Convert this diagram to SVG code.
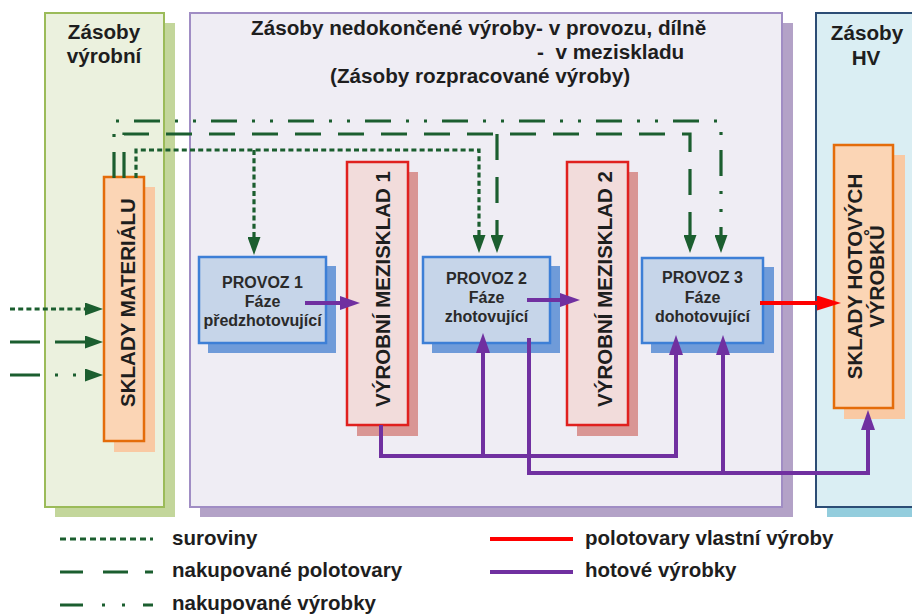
<svg xmlns="http://www.w3.org/2000/svg" width="912" height="614" viewBox="0 0 912 614">
  <style>
    text { font-family: "Liberation Sans", Arial, sans-serif; font-weight: bold; fill: #1e1e1e; }
    .hdr { font-size: 20.7px; }
    .big { font-size: 20.5px; }
    .box { font-size: 16px; fill: #2a2a2a; }
    .g { fill: none; stroke: #1b5e2f; stroke-width: 3.2; }
    .dot { stroke-dasharray: 5 3.2; }
    .dash { stroke-dasharray: 26 17; }
    .dd { stroke-dasharray: 26 15 3 15 3 15; }
    .pu { fill: none; stroke: #7030a0; stroke-width: 4; }
    .rd { fill: none; stroke: #ff0000; stroke-width: 4; }
  </style>
  <defs>
    <marker id="ag" markerUnits="userSpaceOnUse" markerWidth="18" markerHeight="13" viewBox="0 0 18 13" refX="0" refY="6.5" orient="auto">
      <path d="M0,0 L18,6.5 L0,13 Z" fill="#1b5e2f"/>
    </marker>
    <marker id="ap" markerUnits="userSpaceOnUse" markerWidth="20" markerHeight="14" viewBox="0 0 20 14" refX="0" refY="7" orient="auto">
      <path d="M0,0 L20,7 L0,14 Z" fill="#7030a0"/>
    </marker>
    <marker id="ar" markerUnits="userSpaceOnUse" markerWidth="24" markerHeight="15" viewBox="0 0 24 15" refX="0" refY="7.5" orient="auto">
      <path d="M0,0 L24,7.5 L0,15 Z" fill="#ff0000"/>
    </marker>
  </defs>

  <rect width="912" height="614" fill="#ffffff"/>

  <!-- inventory zones -->
  <g id="zone-vyrobni">
    <rect x="55" y="23" width="120" height="494" fill="#c3d69b"/>
    <rect x="45" y="13" width="119" height="494" fill="#ebf1de" stroke="#9bbb59" stroke-width="2"/>
    <text class="hdr" x="104" y="39" text-anchor="middle">Zásoby</text>
    <text class="hdr" x="104" y="63" text-anchor="middle">výrobní</text>
  </g>
  <g id="zone-nedokoncena">
    <rect x="200" y="23" width="593" height="494" fill="#b3a2c7"/>
    <rect x="190" y="13" width="592" height="494" fill="#efedf4" stroke="#a08dc4" stroke-width="2"/>
    <text class="hdr" x="251" y="35">Zásoby nedokončené výroby- v provozu, dílně</text>
    <text class="hdr" x="537" y="59" xml:space="preserve">-  v meziskladu</text>
    <text class="hdr" x="330" y="83">(Zásoby rozpracované výroby)</text>
  </g>
  <g id="zone-hv">
    <rect x="827" y="23" width="100" height="494" fill="#93cddd"/>
    <rect x="816" y="13" width="110" height="494" fill="#daeef3" stroke="#2c4d75" stroke-width="2"/>
    <text class="hdr" x="867" y="40" text-anchor="middle">Zásoby</text>
    <text class="hdr" x="866" y="65" text-anchor="middle">HV</text>
  </g>

  <!-- nodes -->
  <g id="sklady-materialu">
    <rect x="114" y="187" width="41" height="265" fill="#f9c9a3"/>
    <rect x="104" y="177" width="40" height="264" fill="#fbd5b5" stroke="#e46c0a" stroke-width="2.5"/>
    <text class="big" transform="translate(135,302.5) rotate(-90)" text-anchor="middle">SKLADY MATERIÁLU</text>
  </g>
  <g id="provoz-1">
    <rect x="208" y="266" width="128" height="87" fill="#6f9bd9"/>
    <rect x="199" y="257" width="127" height="86" fill="#c6d5e9" stroke="#3d7fd6" stroke-width="2.5"/>
    <text class="box" x="262.5" y="288" text-anchor="middle">PROVOZ 1</text>
    <text class="box" x="262.5" y="307" text-anchor="middle">Fáze</text>
    <text class="box" x="262.5" y="326" text-anchor="middle">předzhotovující</text>
  </g>
  <g id="mezisklad-1">
    <rect x="357" y="172" width="61" height="264" fill="#d99694"/>
    <rect x="347" y="162" width="61" height="263" fill="#f2dcdb" stroke="#e0201e" stroke-width="2.5"/>
    <text class="big" transform="translate(390,289) rotate(-90)" text-anchor="middle">VÝROBNÍ MEZISKLAD 1</text>
  </g>
  <g id="provoz-2">
    <rect x="432" y="266" width="128" height="87" fill="#6f9bd9"/>
    <rect x="423" y="257" width="127" height="86" fill="#c6d5e9" stroke="#3d7fd6" stroke-width="2.5"/>
    <text class="box" x="486.5" y="284" text-anchor="middle">PROVOZ 2</text>
    <text class="box" x="486.5" y="303" text-anchor="middle">Fáze</text>
    <text class="box" x="486.5" y="322" text-anchor="middle">zhotovující</text>
  </g>
  <g id="mezisklad-2">
    <rect x="577" y="172" width="61" height="264" fill="#d99694"/>
    <rect x="567" y="162" width="61" height="263" fill="#f2dcdb" stroke="#e0201e" stroke-width="2.5"/>
    <text class="big" transform="translate(612,289) rotate(-90)" text-anchor="middle">VÝROBNÍ MEZISKLAD 2</text>
  </g>
  <g id="provoz-3">
    <rect x="651" y="267" width="123" height="86" fill="#6f9bd9"/>
    <rect x="642" y="258" width="121" height="85" fill="#c6d5e9" stroke="#3d7fd6" stroke-width="2.5"/>
    <text class="box" x="702.5" y="283" text-anchor="middle">PROVOZ 3</text>
    <text class="box" x="702.5" y="303" text-anchor="middle">Fáze</text>
    <text class="box" x="702.5" y="322" text-anchor="middle">dohotovující</text>
  </g>
  <g id="sklady-hotovych-vyrobku">
    <rect x="844" y="155" width="61" height="264" fill="#f9c9a3"/>
    <rect x="834" y="145" width="59" height="263" fill="#fbd5b5" stroke="#e46c0a" stroke-width="2.5"/>
    <text class="big" transform="translate(862,276.5) rotate(-90)" text-anchor="middle">SKLADY HOTOVÝCH</text>
    <text class="big" transform="translate(884,276.5) rotate(-90)" text-anchor="middle">VÝROBKŮ</text>
  </g>

  <!-- connectors -->
  <g id="connectors">
    <!-- purchased goods -->
    <path class="g dd" d="M114,178 V121 H721 V235" marker-end="url(#ag)"/>
    <!-- purchased semi-finished goods -->
    <path class="g dash" d="M124,178 V134 H690 V235" marker-end="url(#ag)"/>
    <path class="g dash" d="M497,134 V235" marker-end="url(#ag)"/>
    <!-- raw materials -->
    <path class="g dot" d="M136,178 V150 H479 V235" marker-end="url(#ag)"/>
    <path class="g dot" d="M254,150 V237" marker-end="url(#ag)"/>
    <!-- inputs to the material store -->
    <path class="g dot" d="M10,309 H85" marker-end="url(#ag)"/>
    <path class="g" stroke-dasharray="30 15 30" d="M10,342 H85" marker-end="url(#ag)"/>
    <path class="g" stroke-dasharray="30 15 3 15 3 20" d="M10,375 H85" marker-end="url(#ag)"/>
    <!-- own semi-finished products -->
    <path class="pu" d="M305,303 H340" marker-end="url(#ap)"/>
    <path class="pu" d="M527,300 H560" marker-end="url(#ap)"/>
    <path class="rd" d="M760,303 H817" marker-end="url(#ar)"/>
    <!-- finished products -->
    <path class="pu" d="M381,425 V456 H676 V355" marker-end="url(#ap)"/>
    <path class="pu" d="M483,456 V353" marker-end="url(#ap)"/>
    <path class="pu" d="M529,338 V473 H868 V430" marker-end="url(#ap)"/>
    <path class="pu" d="M723,473 V355" marker-end="url(#ap)"/>
  </g>

  <!-- legend -->
  <g id="legend">
    <path class="g" stroke-dasharray="6 4" d="M60,539 H153"/>
    <path class="g" stroke-dasharray="23 20 25 17 8 100" d="M60,572 H153"/>
    <path class="g" stroke-dasharray="23 19 3 17 3 18 10 100" d="M60,605 H153"/>
    <text class="big" x="172" y="545">suroviny</text>
    <text class="big" x="172" y="577">nakupované polotovary</text>
    <text class="big" x="172" y="610">nakupované výrobky</text>
    <path d="M490,539 H573" stroke="#ff0000" stroke-width="4"/>
    <path d="M490,572 H573" stroke="#7030a0" stroke-width="4"/>
    <text class="big" x="585" y="545">polotovary vlastní výroby</text>
    <text class="big" x="585" y="577">hotové výrobky</text>
  </g>
</svg>
